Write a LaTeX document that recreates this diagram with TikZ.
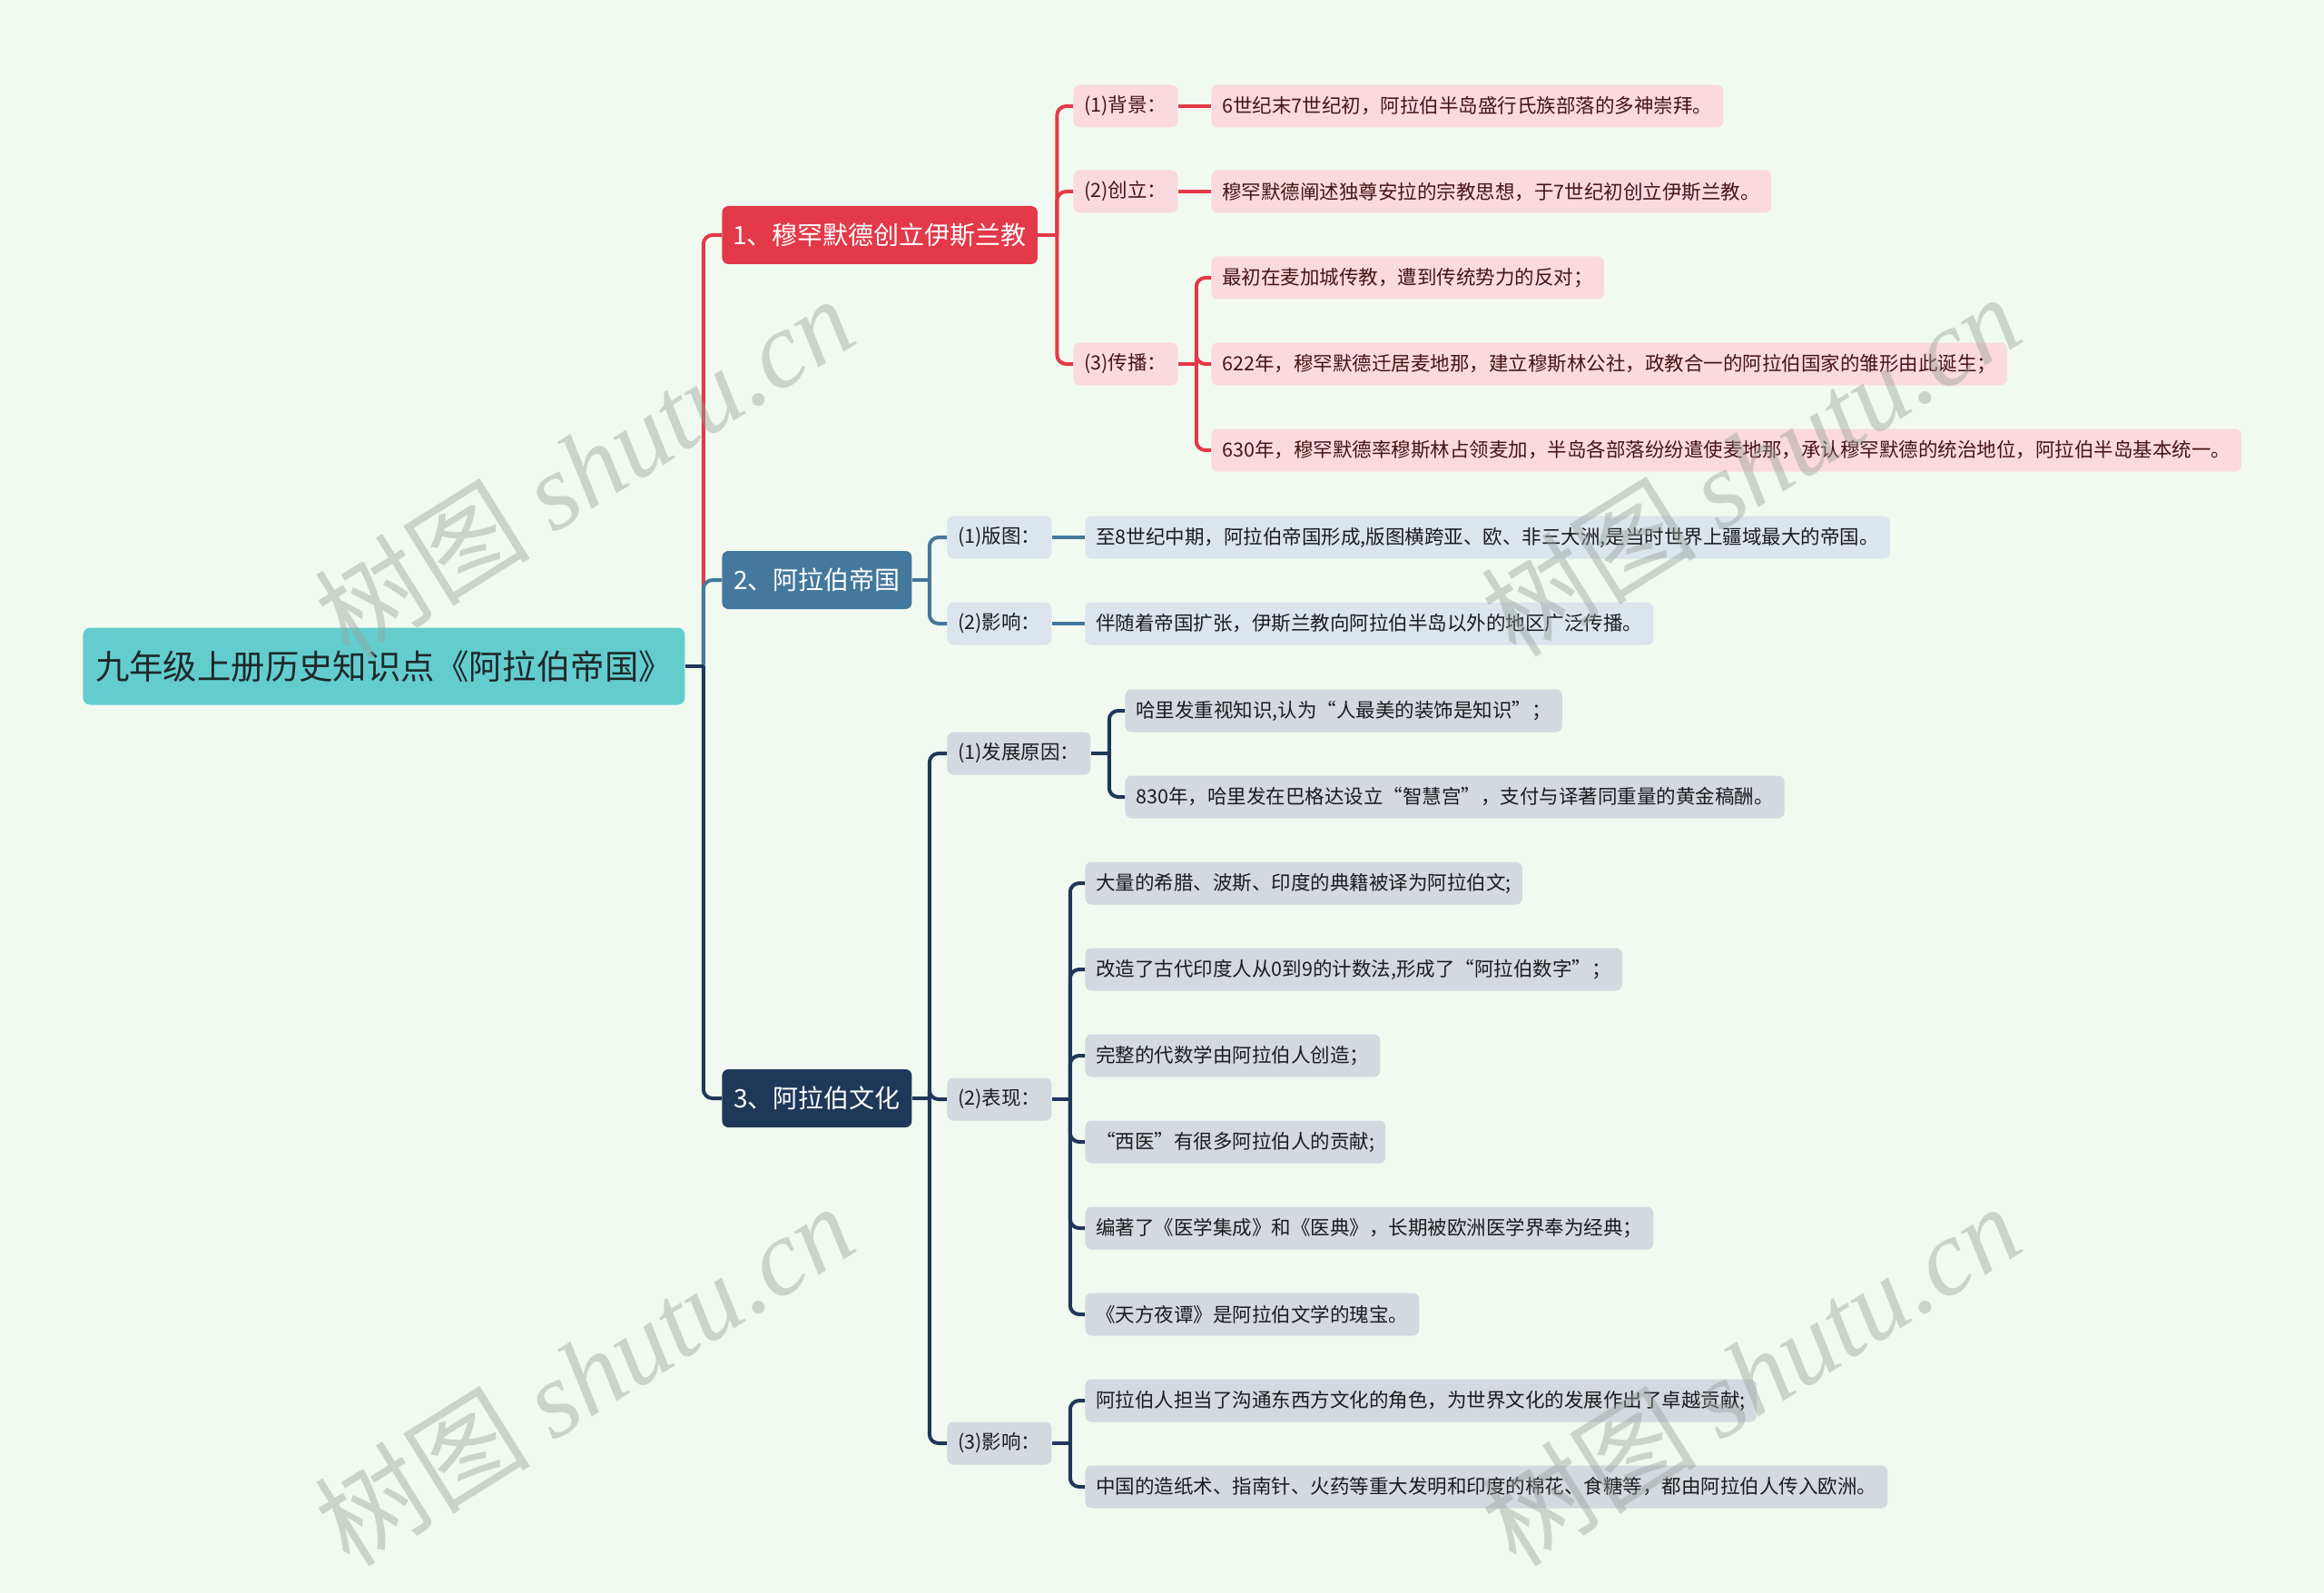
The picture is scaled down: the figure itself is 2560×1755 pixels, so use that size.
\documentclass[tikz,border=0pt]{standalone}
\usepackage{fontspec}
\setmainfont{Noto Sans CJK SC}
\newfontfamily\wmlatin{Liberation Serif}
\newfontfamily\wmcjk{Noto Sans CJK SC}
\definecolor{bgc}{RGB}{241,250,240}
\definecolor{rootc}{RGB}{99,205,206}
\definecolor{roott}{RGB}{30,40,42}
\definecolor{redc}{RGB}{227,57,72}
\definecolor{pinkc}{RGB}{250,218,222}
\definecolor{maroonc}{RGB}{70,20,24}
\definecolor{bluec}{RGB}{68,120,156}
\definecolor{lbluec}{RGB}{220,228,236}
\definecolor{navyc}{RGB}{31,55,89}
\definecolor{lgrayc}{RGB}{212,216,223}
\definecolor{darkt}{RGB}{28,28,30}
\definecolor{wmc}{RGB}{150,160,152}
\begin{document}
\begin{tikzpicture}[x=0.5pt,y=-0.5pt,
  box/.style={anchor=west, rounded corners=3.5pt, inner xsep=6pt, inner ysep=0pt, minimum height=23.5pt, font=\fontsize{10.75}{12}\selectfont},
  pk/.style={box, fill=pinkc, text=maroonc},
  bl/.style={box, fill=lbluec, text=darkt},
  gr/.style={box, fill=lgrayc, text=darkt},
  lvl/.style={anchor=west, rounded corners=3.5pt, inner xsep=6pt, inner ysep=0pt, minimum height=32pt, font=\fontsize{14}{16}\selectfont, text=white},
  rootst/.style={anchor=west, fill=rootc, text=roott, rounded corners=4pt, minimum height=42.5pt, minimum width=331.5pt, font=\fontsize{18.7}{21}\selectfont},
  conn/.style={line width=2pt, rounded corners=5pt},
  wm/.style={text=wmc, text opacity=0.42, rotate=32, inner sep=0pt}
]
\fill[bgc] (0,0) rectangle (2560,1755);
\useasboundingbox (0,0) rectangle (2560,1755);

% root and level 1
\node[rootst] (root) at (91,734) {九年级上册历史知识点《阿拉伯帝国》};
\node[lvl, fill=redc, minimum width=173pt] (n1) at (795,259) {1、穆罕默德创立伊斯兰教};
\node[lvl, fill=bluec, minimum width=104.5pt] (n2) at (795,639) {2、阿拉伯帝国};
\node[lvl, fill=navyc, minimum width=104.5pt] (n3) at (795,1210) {3、阿拉伯文化};

% branch 1
\node[pk] (b1a) at (1182,117) {(1)背景：};
\node[pk] (b1b) at (1182,211) {(2)创立：};
\node[pk] (b1c) at (1182,401) {(3)传播：};
\node[pk] (l1a) at (1334,117) {6世纪末7世纪初，阿拉伯半岛盛行氏族部落的多神崇拜。};
\node[pk] (l1b) at (1334,211) {穆罕默德阐述独尊安拉的宗教思想，于7世纪初创立伊斯兰教。};
\node[pk] (l1c1) at (1334,306) {最初在麦加城传教，遭到传统势力的反对；};
\node[pk] (l1c2) at (1334,401) {622年，穆罕默德迁居麦地那，建立穆斯林公社，政教合一的阿拉伯国家的雏形由此诞生；};
\node[pk] (l1c3) at (1334,496) {630年，穆罕默德率穆斯林占领麦加，半岛各部落纷纷遣使麦地那，承认穆罕默德的统治地位，阿拉伯半岛基本统一。};

% branch 2
\node[bl] (b2a) at (1043,592) {(1)版图：};
\node[bl] (b2b) at (1043,687) {(2)影响：};
\node[bl] (l2a) at (1195,592) {至8世纪中期，阿拉伯帝国形成,版图横跨亚、欧、非三大洲,是当时世界上疆域最大的帝国。};
\node[bl] (l2b) at (1195,687) {伴随着帝国扩张，伊斯兰教向阿拉伯半岛以外的地区广泛传播。};

% branch 3
\node[gr] (b3a) at (1043,830) {(1)发展原因：};
\node[gr] (b3b) at (1043,1211) {(2)表现：};
\node[gr] (b3c) at (1043,1590) {(3)影响：};
\node[gr] (l3a1) at (1239,783) {哈里发重视知识,认为“人最美的装饰是知识”；};
\node[gr] (l3a2) at (1239,878) {830年，哈里发在巴格达设立“智慧宫”，支付与译著同重量的黄金稿酬。};
\node[gr] (l3b1) at (1195,973) {大量的希腊、波斯、印度的典籍被译为阿拉伯文;};
\node[gr] (l3b2) at (1195,1068) {改造了古代印度人从0到9的计数法,形成了“阿拉伯数字”；};
\node[gr] (l3b3) at (1195,1163) {完整的代数学由阿拉伯人创造；};
\node[gr] (l3b4) at (1195,1258) {“西医”有很多阿拉伯人的贡献;};
\node[gr] (l3b5) at (1195,1353) {编著了《医学集成》和《医典》，长期被欧洲医学界奉为经典；};
\node[gr] (l3b6) at (1195,1448) {《天方夜谭》是阿拉伯文学的瑰宝。};
\node[gr] (l3c1) at (1195,1543) {阿拉伯人担当了沟通东西方文化的角色，为世界文化的发展作出了卓越贡献;};
\node[gr] (l3c2) at (1195,1638) {中国的造纸术、指南针、火药等重大发明和印度的棉花、食糖等，都由阿拉伯人传入欧洲。};

% junction coordinates
\coordinate (j0) at ([xshift=10pt]root.east);
\coordinate (j1) at ([xshift=10.5pt]n1.east);
\coordinate (j1c) at ([xshift=10pt]b1c.east);
\coordinate (j2) at ([xshift=9.5pt]n2.east);
\coordinate (j3) at ([xshift=9.5pt]n3.east);
\coordinate (j3a) at ([xshift=10pt]b3a.east);
\coordinate (j3b) at ([xshift=10pt]b3b.east);
\coordinate (j3c) at ([xshift=10pt]b3c.east);

% root connectors
\draw[conn, redc] (j0) |- (n1.west);
\draw[conn, bluec] (j0) |- (n2.west);
\draw[conn, navyc] (j0) |- (n3.west);
\draw[conn, navyc] (root.east) -- (j0);

% branch 1 connectors
\draw[conn, redc] (n1.east) -- (j1);
\draw[conn, redc] (j1) |- (b1a.west);
\draw[conn, redc] (j1) |- (b1b.west);
\draw[conn, redc] (j1) |- (b1c.west);
\draw[conn, redc] (b1a.east) -- (l1a.west);
\draw[conn, redc] (b1b.east) -- (l1b.west);
\draw[conn, redc] (b1c.east) -- (j1c);
\draw[conn, redc] (j1c) |- (l1c1.west);
\draw[conn, redc] (j1c) |- (l1c2.west);
\draw[conn, redc] (j1c) |- (l1c3.west);

% branch 2 connectors
\draw[conn, bluec] (n2.east) -- (j2);
\draw[conn, bluec] (j2) |- (b2a.west);
\draw[conn, bluec] (j2) |- (b2b.west);
\draw[conn, bluec] (b2a.east) -- (l2a.west);
\draw[conn, bluec] (b2b.east) -- (l2b.west);

% branch 3 connectors
\draw[conn, navyc] (n3.east) -- (j3);
\draw[conn, navyc] (j3) |- (b3a.west);
\draw[conn, navyc] (j3) |- (b3b.west);
\draw[conn, navyc] (j3) |- (b3c.west);
\draw[conn, navyc] (b3a.east) -- (j3a);
\draw[conn, navyc] (j3a) |- (l3a1.west);
\draw[conn, navyc] (j3a) |- (l3a2.west);
\draw[conn, navyc] (b3b.east) -- (j3b);
\foreach \k in {1,...,6} { \draw[conn, navyc] (j3b) |- (l3b\k.west); }
\draw[conn, navyc] (b3c.east) -- (j3c);
\draw[conn, navyc] (j3c) |- (l3c1.west);
\draw[conn, navyc] (j3c) |- (l3c2.west);

% watermarks
\foreach \p/\nm in {{(643,514)}/wa, {(1928,512)}/wb, {(643,1514)}/wc, {(1928,1514)}/wd} {
  \node[wm] (\nm) at \p {\fontsize{59.5}{60}\selectfont\wmcjk 树图 \wmlatin\itshape shutu.cn};
}
\end{tikzpicture}
\end{document}
